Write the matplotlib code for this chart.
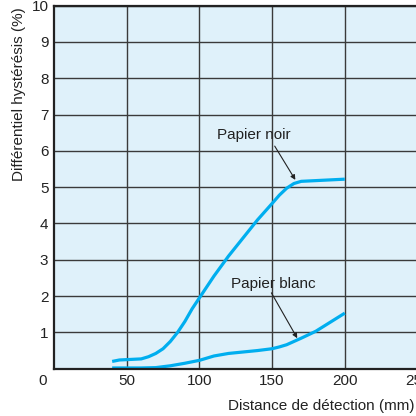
import matplotlib
matplotlib.use("Agg")
import matplotlib.pyplot as plt

plt.rcParams['font.family'] = ['Liberation Sans', 'DejaVu Sans']

noir_x = [40, 45, 50, 60, 65, 70, 75, 80, 85, 90, 95, 100, 105, 110, 120, 130, 140, 150, 155, 160, 165, 170, 180, 190, 200]
noir_y = [0.2, 0.24, 0.25, 0.27, 0.33, 0.42, 0.55, 0.75, 1.0, 1.3, 1.65, 1.95, 2.25, 2.55, 3.1, 3.6, 4.1, 4.55, 4.78, 4.97, 5.1, 5.16, 5.18, 5.2, 5.22]

blanc_x = [40, 50, 60, 70, 80, 90, 100, 110, 120, 130, 140, 150, 155, 160, 165, 170, 180, 190, 200]
blanc_y = [0.02, 0.02, 0.02, 0.03, 0.08, 0.15, 0.23, 0.35, 0.42, 0.46, 0.5, 0.55, 0.6, 0.66, 0.75, 0.84, 1.03, 1.28, 1.53]

xticks = [50, 100, 150, 200, 250]
yticks = [1, 2, 3, 4, 5, 6, 7, 8, 9, 10]

FS = 11

fig = plt.figure(figsize=(4.16, 4.16), dpi=100)
ax = fig.add_axes([54/416, 1 - 368.7/416, 363.5/416, 363.1/416])
ax.set_facecolor('#dff1fa')
ax.set_xlim(0, 250)
ax.set_ylim(0, 10)
ax.set_xticks(xticks)
ax.set_yticks(yticks)
ax.tick_params(length=0, labelsize=FS, colors='#222222', pad=4)
ax.grid(True, color='#3a3a3a', lw=1)
ax.set_axisbelow(True)
for s in ['left', 'bottom', 'top']:
    ax.spines[s].set_color('#222222')
    ax.spines[s].set_linewidth(1.6)
ax.spines['right'].set_visible(False)

blue = '#00aeef'
ax.plot(noir_x, noir_y, color=blue, lw=2.3, solid_capstyle='butt', solid_joinstyle='round')
ax.plot(blanc_x, blanc_y, color=blue, lw=2.3, solid_capstyle='butt', solid_joinstyle='round')

arrow = dict(arrowstyle='-|>', color='#222222', lw=0.8, mutation_scale=7, shrinkA=0, shrinkB=0)
ax.text(137.5, 6.44, 'Papier noir', ha='center', va='center', fontsize=FS, color='#222222')
ax.annotate('', xy=(166, 5.2), xytext=(151.8, 6.13), arrowprops=arrow)
ax.text(150.8, 2.33, 'Papier blanc', ha='center', va='center', fontsize=FS, color='#222222')
ax.annotate('', xy=(167.3, 0.84), xytext=(149.5, 2.09), arrowprops=arrow)

fig.text(43/416, 1 - 381/416, '0', ha='center', va='center', fontsize=FS, color='#222222')
fig.text(19/416, 1 - 7/416, 'Différentiel hystérésis (%)', rotation=90, ha='center', va='top',
         fontsize=FS, color='#222222')
fig.text(414/416, 1 - 406/416, 'Distance de détection (mm)', ha='right', va='center',
         fontsize=FS, color='#222222')

fig.savefig('out.png', dpi=100)
